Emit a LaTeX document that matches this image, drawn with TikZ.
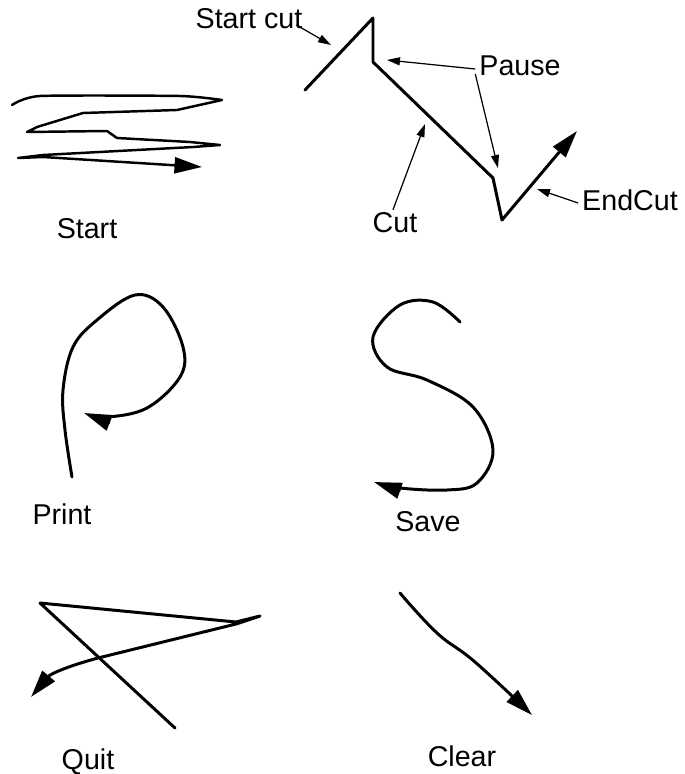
\documentclass[tikz,border=0pt]{standalone}
\usepackage{fontspec}
\setmainfont{Liberation Sans}
\usetikzlibrary{arrows.meta}
\tikzset{
	gesture/.style ={line width=1.7pt, line join=round, line cap=round},
	gestarrow/.style={gesture, -{Triangle[length=5.5mm, width=3.2mm]}},
	lbl/.style     ={inner sep=1pt, font=\fontsize{16.3}{18}\selectfont},
	pointer/.style ={-{Triangle[length=2.6mm, width=1.6mm]}, line width=0.7pt},
}
\begin{document}
\begin{tikzpicture}[x=0.02cm, y=-0.02cm]
	\useasboundingbox (0,0) rectangle (685,774);
	% Start
	\draw[gestarrow, line width=1.4pt] plot[smooth, tension=0.35] coordinates {(12,105) (40,96) (180,96) (222,100)}
		-- (177,110) -- (83,113) -- (37,127) -- (27,132) -- (107,131) -- (117,138) -- (190,142) -- (220,145)
		-- (193,147) -- (43,155) -- (18,158) -- (43,157) -- (202,167);
	\node[lbl] (start) at (87,229) {Start};
	% Cut gesture
	\draw[gestarrow] (305,90) -- (373,18) -- (373,62) -- (493,178) -- (502,220) -- (577,131);
	\node[lbl] (startcut) at (249,19) {Start cut};
	\node[lbl] (pause) at (520,66) {Pause};
	\node[lbl] (cut) at (395,223) {Cut};
	\node[lbl] (endcut) at (630,200) {EndCut};
	\coordinate (c1) at (331,45);
	\coordinate (c2) at (387,60);
	\coordinate (c3) at (498,168);
	\coordinate (c4) at (425,124);
	\coordinate (c5) at (537,189);
	\draw[pointer] (startcut.east) ++(-8,6) -- (c1);
	\draw[pointer] (pause.west) ++(-2,3) -- (c2);
	\draw[pointer] (pause.west) ++(-2,8) -- (c3);
	\draw[pointer] (cut.north) ++(-2,-1) -- (c4);
	\draw[pointer] (endcut.west) ++(-2,3) -- (c5);
	% Print
	\draw[gestarrow] plot[smooth, tension=0.6] coordinates {(72,477) (65,430) (63,390) (73,347) (97,320) (135,295) (163,307) (183,347) (180,377) (147,408) (107,417) (84,413)};
	\node[lbl] (print) at (62,514) {Print};
	% Save
	\draw[gestarrow] plot[smooth, tension=0.6] coordinates {(460,322) (433,302) (400,305) (373,337) (387,367) (427,380) (473,407) (493,450) (477,483) (447,490) (400,488) (374,482)};
	\node[lbl] (save) at (428,522) {Save};
	% Quit
	\draw[gestarrow] (175,728) -- (40,603) -- (236,622) -- (260,616) -- (236,624) -- (98,658) to[out=195, in=50] (31,697);
	\node[lbl] (quit) at (88,762) {Quit};
	% Clear
	\draw[gestarrow] plot[smooth, tension=0.7] coordinates {(400,593) (437,633) (475,662) (532,715)};
	\node[lbl] (clear) at (462,756) {Clear};
\end{tikzpicture}
\end{document}
